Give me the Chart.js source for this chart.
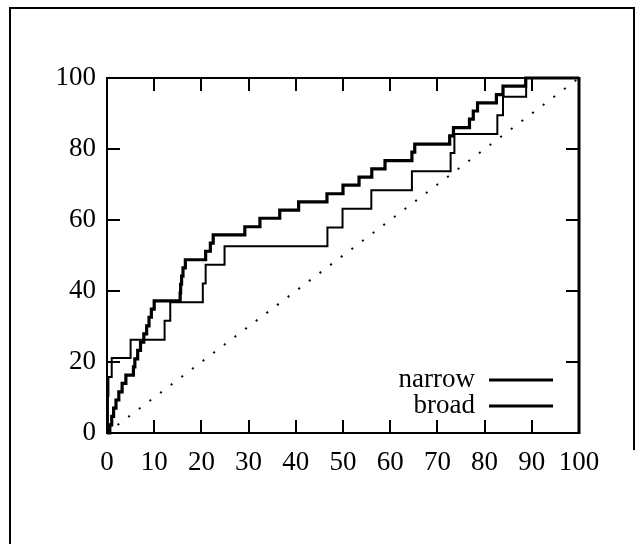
<!DOCTYPE html>
<html>
<head>
<meta charset="utf-8">
<script src="https://cdn.jsdelivr.net/npm/chart.js@4"></script>
<style>
html,body{margin:0;padding:0;background:#fff;}
canvas{display:block;}
</style>
</head>
<body>
<canvas id="c" width="643" height="544"></canvas>
<script>
// ---- data ----
const seriesNames = ["narrow", "broad"];
const narrowX = [0, 0.6, 1.0, 1.4, 1.9, 2.5, 3.2, 4.0, 5.6, 5.9, 6.5, 7.1, 7.8, 8.4, 8.9, 9.4, 10.0,
  15.5, 15.6, 15.8, 16.1, 16.6, 20.9, 21.9, 22.5, 29.2, 32.4, 36.6, 40.6, 46.6, 50.0, 53.4, 56.1, 58.9,
  64.6, 65.2, 72.6, 73.4, 76.8, 77.6, 78.5, 82.5, 83.9, 88.7, 100];
const narrowY = [0, 2.3, 4.7, 7.0, 9.3, 11.6, 14.0, 16.3, 18.6, 20.9, 23.3, 25.6, 27.9, 30.2, 32.6, 34.9, 37.2,
  39.5, 41.9, 44.2, 46.5, 48.8, 51.2, 53.5, 55.8, 58.1, 60.5, 62.8, 65.1, 67.4, 69.8, 72.1, 74.4, 76.7,
  79.1, 81.4, 83.7, 86.0, 88.4, 90.7, 93.0, 95.3, 97.7, 100, 100];
const broadX = [0, 0.2, 0.2, 0.3, 1.0, 5.0, 12.2, 13.4, 20.3, 20.9, 24.9, 46.7, 49.9, 56.0, 64.6, 72.8, 73.6, 82.7, 83.9, 88.8, 100];
const broadY = [0, 5.3, 10.5, 15.8, 21.1, 26.3, 31.6, 36.8, 42.1, 47.4, 52.6, 57.9, 63.2, 68.4, 73.7, 78.9, 84.2, 89.5, 94.7, 100, 100];
const diagX = [0, 100];
const diagY = [0, 100];
const xTicks = [0, 10, 20, 30, 40, 50, 60, 70, 80, 90, 100];
const yTicks = [0, 20, 40, 60, 80, 100];

const FONT = '"Liberation Serif", "Times New Roman", serif';
const FSIZE = 27;
const pts = (xs, ys) => xs.map((x, i) => ({x: x, y: ys[i]}));

const framePlugin = {
  id: 'frame',
  afterDraw(chart) {
    const ctx = chart.ctx;
    const a = chart.chartArea;
    const xs = chart.scales.x, ys = chart.scales.y;
    ctx.save();
    ctx.strokeStyle = '#000';
    ctx.lineCap = 'butt';
    // outer frame
    ctx.lineWidth = 2;
    ctx.beginPath();
    ctx.moveTo(10, 544);
    ctx.lineTo(10, 8);
    ctx.lineTo(634, 8);
    ctx.lineTo(634, 450);
    ctx.stroke();
    // plot border
    ctx.beginPath();
    ctx.moveTo(a.right, a.bottom);
    ctx.lineTo(a.left, a.bottom);
    ctx.lineTo(a.left, a.top);
    ctx.lineTo(a.right, a.top);
    ctx.stroke();
    ctx.lineWidth = 3;
    ctx.beginPath();
    ctx.moveTo(a.right, a.top - 1);
    ctx.lineTo(a.right, a.bottom + 1);
    ctx.stroke();
    // inward ticks
    ctx.lineWidth = 2;
    const tl = 13;
    ctx.beginPath();
    xTicks.forEach(v => {
      const p = Math.round(xs.getPixelForValue(v));
      ctx.moveTo(p, a.bottom); ctx.lineTo(p, a.bottom - tl);
      ctx.moveTo(p, a.top); ctx.lineTo(p, a.top + tl);
    });
    yTicks.forEach(v => {
      const p = Math.round(ys.getPixelForValue(v));
      ctx.moveTo(a.left, p); ctx.lineTo(a.left + tl, p);
      ctx.moveTo(a.right, p); ctx.lineTo(a.right - tl, p);
    });
    ctx.stroke();
    // legend
    ctx.font = FSIZE + 'px ' + FONT;
    ctx.fillStyle = '#000';
    ctx.textAlign = 'right';
    ctx.textBaseline = 'alphabetic';
    const legY = [380, 406];
    seriesNames.forEach((name, i) => {
      ctx.fillText(name, 475, legY[i] + 7);
      ctx.lineWidth = 3;
      ctx.beginPath();
      ctx.moveTo(489, legY[i]);
      ctx.lineTo(553, legY[i]);
      ctx.stroke();
    });
    ctx.restore();
  }
};

new Chart(document.getElementById('c'), {
  type: 'scatter',
  data: {
    datasets: [
      { label: seriesNames[0], data: pts(narrowX, narrowY), showLine: true, stepped: 'before',
        borderColor: '#000', borderWidth: 3.2, pointRadius: 0, clip: false, borderJoinStyle: 'miter' },
      { label: seriesNames[1], data: pts(broadX, broadY), showLine: true, stepped: 'before',
        borderColor: '#000', borderWidth: 2, pointRadius: 0, clip: false, borderJoinStyle: 'miter' },
      { label: 'diagonal', data: pts(diagX, diagY), showLine: true,
        borderColor: '#000', borderWidth: 2, borderDash: [2, 11.3], pointRadius: 0 }
    ]
  },
  options: {
    responsive: false,
    animation: false,
    devicePixelRatio: 1,
    layout: { padding: { left: 0, top: 78, right: 64, bottom: 0 } },
    plugins: { legend: { display: false }, tooltip: { enabled: false } },
    scales: {
      x: {
        type: 'linear', min: 0, max: 100,
        afterFit(s) { s.height = 111; },
        afterBuildTicks(s) { s.ticks = xTicks.map(v => ({value: v})); },
        grid: { display: false, drawTicks: false },
        border: { display: false },
        ticks: { color: '#000', font: { family: FONT, size: FSIZE }, padding: 14, maxRotation: 0, autoSkip: false }
      },
      y: {
        type: 'linear', min: 0, max: 100,
        afterFit(s) { s.width = 107; },
        afterBuildTicks(s) { s.ticks = yTicks.map(v => ({value: v})); },
        grid: { display: false, drawTicks: false },
        border: { display: false },
        ticks: { color: '#000', font: { family: FONT, size: FSIZE }, padding: 11, autoSkip: false }
      }
    }
  },
  plugins: [framePlugin]
});
</script>
</body>
</html>
